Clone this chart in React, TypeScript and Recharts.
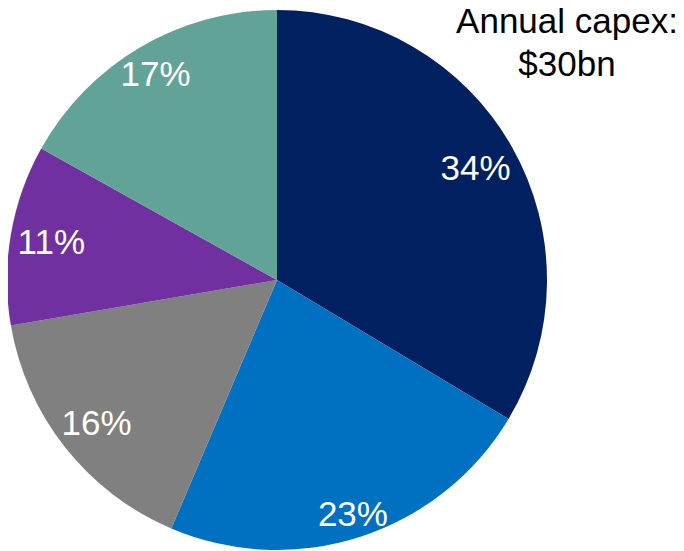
import React from "react";
import { PieChart, Pie, Cell } from "recharts";

const categories = ["A", "B", "C", "D", "E"];
const shares = [33.6, 22.8, 15.9, 10.8, 16.9];
const labels = ["34%", "23%", "16%", "11%", "17%"];
const colors = ["#002060", "#0070C0", "#808080", "#7030A0", "#62A398"];
const titleLines = ["Annual capex:", "$30bn"];

// layout: radial position of each label as a fraction of the outer radius
const labelRadiusFactor = [0.845, 0.91, 0.852, 0.848, 0.888];

const data = categories.map((c, i) => ({ name: c, value: shares[i], label: labels[i] }));

const RAD = Math.PI / 180;

const renderLabel = (props: any) => {
  const { cx, cy, midAngle, outerRadius, index } = props;
  const r = outerRadius * labelRadiusFactor[index];
  const x = cx + r * Math.cos(-midAngle * RAD);
  const y = cy + r * Math.sin(-midAngle * RAD);
  return (
    <text
      x={x}
      y={y}
      fill="#ffffff"
      textAnchor="middle"
      dominantBaseline="central"
      fontFamily="'Liberation Sans', Arial, sans-serif"
      fontSize={35}
    >
      {labels[index]}
    </text>
  );
};

export default function App() {
  return (
    <div style={{ position: "relative", width: 676, height: 543 }}>
      <PieChart width={676} height={543} margin={{ top: 0, right: 0, bottom: 0, left: 0 }}>
        <Pie
          data={data}
          dataKey="value"
          cx={269}
          cy={272}
          outerRadius={270}
          startAngle={90}
          endAngle={-270}
          stroke="none"
          label={renderLabel}
          labelLine={false}
          isAnimationActive={false}
        >
          {data.map((d, i) => (
            <Cell key={d.name} fill={colors[i]} />
          ))}
        </Pie>
      </PieChart>
      <svg
        width={676}
        height={543}
        style={{ position: "absolute", left: 0, top: 0, pointerEvents: "none", overflow: "visible" }}
      >
        {titleLines.map((t, i) => (
          <text
            key={t}
            x={559}
            y={25 + i * 43}
            textAnchor="middle"
            fontFamily="'Liberation Sans', Arial, sans-serif"
            fontSize={35}
            fill="#000000"
          >
            {t}
          </text>
        ))}
      </svg>
    </div>
  );
}
